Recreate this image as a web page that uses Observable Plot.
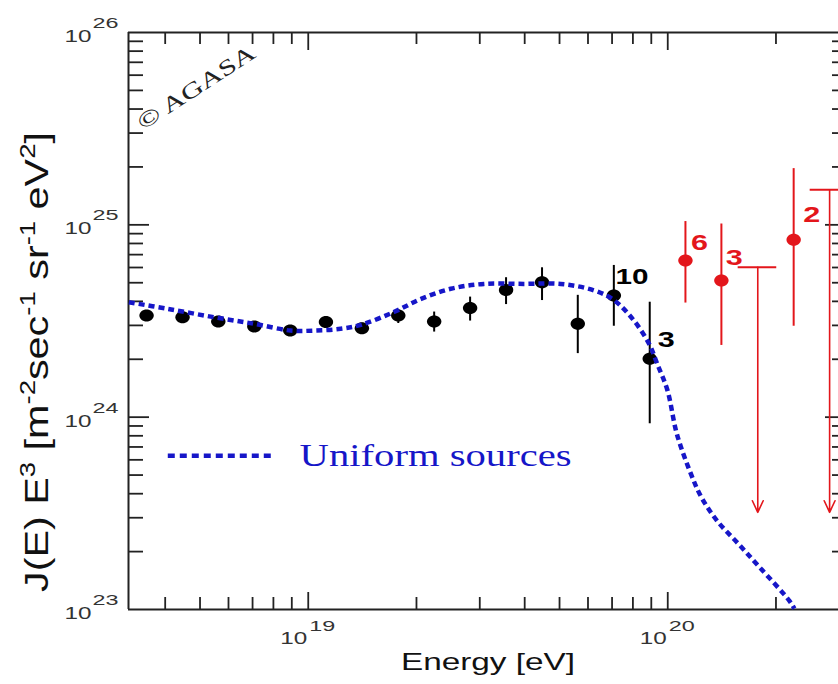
<!DOCTYPE html>
<html>
<head>
<meta charset="utf-8">
<script src="https://cdn.jsdelivr.net/npm/d3@7"></script>
<script src="https://cdn.jsdelivr.net/npm/@observablehq/plot@0.6"></script>
<style>
  html, body { margin: 0; padding: 0; background: #fff; }
  svg { display: block; }
</style>
</head>
<body>
<div id="chart"></div>
<script>
// ---- AGASA binned spectrum (black points) ----
const binEnergy = [3.55e18, 4.47e18, 5.62e18, 7.08e18, 8.91e18, 1.12e19, 1.41e19, 1.78e19, 2.24e19, 2.82e19, 3.55e19, 4.47e19, 5.62e19, 7.08e19, 8.91e19];
const binFlux   = [3.38e24, 3.31e24, 3.14e24, 2.96e24, 2.82e24, 3.12e24, 2.90e24, 3.38e24, 3.14e24, 3.70e24, 4.59e24, 5.03e24, 3.06e24, 4.29e24, 2.01e24];
const binLow    = [3.20e24, 3.15e24, 2.98e24, 2.82e24, 2.67e24, 2.95e24, 2.72e24, 3.07e24, 2.77e24, 3.16e24, 3.85e24, 4.04e24, 2.14e24, 2.97e24, 9.24e23];
const binHigh   = [3.55e24, 3.48e24, 3.30e24, 3.10e24, 2.97e24, 3.30e24, 3.08e24, 3.63e24, 3.52e24, 4.21e24, 5.31e24, 5.98e24, 4.30e24, 6.15e24, 3.96e24];

// ---- super-GZK events (red points) ----
const gzkEnergy = [1.12e20, 1.41e20, 2.24e20];
const gzkFlux   = [6.53e24, 5.14e24, 8.36e24];
const gzkLow    = [3.92e24, 2.36e24, 2.97e24];
const gzkHigh   = [1.04e25, 1.01e25, 1.96e25];

// ---- upper limits (red arrows) ----
const limitEnergy  = [1.78e20, 2.82e20];
const limitFlux    = [6.02e24, 1.52e25];
const limitCapLow  = [1.57e20, 2.49e20];
const limitCapHigh = [2.01e20, 3.19e20];
const limitArrowTo = [3.2e23, 3.2e23];

// ---- event-count annotations ----
const noteText   = ["10", "3", "6", "3", "2"];
const noteEnergy = [7.16e19, 9.38e19, 1.16e20, 1.45e20, 2.38e20];
const noteFlux   = [5.36e24, 2.52e24, 8.05e24, 6.73e24, 1.13e25];
const noteGroup  = ["agasa", "agasa", "gzk", "gzk", "gzk"];

// ---- uniform sources model curve ----
const curveEnergy = [3.17e18, 4.06e18, 5.46e18, 7.06e18, 8.93e18, 1.04e19, 1.23e19, 1.41e19, 1.73e19, 2.06e19, 2.49e19, 3.08e19, 3.98e19, 5.04e19, 6.24e19, 7.10e19, 8.05e19, 8.87e19, 9.35e19, 9.98e19, 1.06e20, 1.16e20, 1.24e20, 1.37e20, 1.57e20, 1.80e20, 2.18e20, 2.25e20];
const curveFlux   = [3.96e24, 3.66e24, 3.31e24, 3.06e24, 2.82e24, 2.82e24, 2.88e24, 3.03e24, 3.52e24, 4.12e24, 4.65e24, 4.93e24, 4.93e24, 4.93e24, 4.56e24, 4.05e24, 3.18e24, 2.41e24, 1.89e24, 1.38e24, 8.19e23, 5.07e23, 3.84e23, 2.90e23, 2.20e23, 1.66e23, 1.11e23, 1.01e23];

// ---- legend ----
const legendLabel = "Uniform sources";
const legendLineFrom = 4.08e18, legendLineTo = 8.11e18, legendFlux = 6.3e23, legendTextAt = 9.46e18;

// ---- axes ----
const xDomain = [3.1623e18, 3.1623e20];
const yDomain = [1e23, 1e26];
const xMajorTicks = [1e19, 1e20];
const xMinorTicks = [4e18, 5e18, 6e18, 7e18, 8e18, 9e18, 2e19, 3e19, 4e19, 5e19, 6e19, 7e19, 8e19, 9e19, 2e20, 3e20];
const yMajorTicks = [1e24, 1e25];
const yMinorTicks = [2e23, 3e23, 4e23, 5e23, 6e23, 7e23, 8e23, 9e23, 2e24, 3e24, 4e24, 5e24, 6e24, 7e24, 8e24, 9e24, 2e25, 3e25, 4e25, 5e25, 6e25, 7e25, 8e25, 9e25];
const xLabelValues = [1e19, 1e20];
const xLabelExp = ["19", "20"];
const yLabelValues = [1e23, 1e24, 1e25, 1e26];
const yLabelExp = ["23", "24", "25", "26"];
const xTitle = "Energy [eV]";
const yTitleParts = [["J(E) E", false], ["3", true], [" [m", false], ["-2", true], ["sec", false], ["-1", true], [" sr", false], ["-1", true], [" eV", false], ["2", true], ["]", false]];
const copyrightText = "\u00A9 AGASA";

const sans = "'Liberation Sans', Arial, Helvetica, sans-serif";
const serif = "'Liberation Serif', 'Times New Roman', serif";
const black = "#000";
const red = "#e3161b";
const blue = "#1616c8";
const axisColor = "#222";

const bins = binEnergy.map((e, i) => ({e, f: binFlux[i], lo: binLow[i], hi: binHigh[i]}));
const gzk = gzkEnergy.map((e, i) => ({e, f: gzkFlux[i], lo: gzkLow[i], hi: gzkHigh[i]}));
const limits = limitEnergy.map((e, i) => ({e, f: limitFlux[i], c1: limitCapLow[i], c2: limitCapHigh[i], to: limitArrowTo[i]}));
const notes = noteText.map((t, i) => ({t, e: noteEnergy[i], f: noteFlux[i], g: noteGroup[i]}));
const curve = curveEnergy.map((e, i) => ({e, f: curveFlux[i]}));

// slightly wide elliptical marker
const ellipse = {
  draw(ctx, size) {
    const r = Math.sqrt(size / Math.PI);
    const rx = r * 1.2, ry = r, k = 0.5523;
    ctx.moveTo(rx, 0);
    ctx.bezierCurveTo(rx, ry * k, rx * k, ry, 0, ry);
    ctx.bezierCurveTo(-rx * k, ry, -rx, ry * k, -rx, 0);
    ctx.bezierCurveTo(-rx, -ry * k, -rx * k, -ry, 0, -ry);
    ctx.bezierCurveTo(rx * k, -ry, rx, -ry * k, rx, 0);
    ctx.closePath();
  }
};

const tickStyle = {stroke: axisColor, strokeWidth: 1.8, fill: "none", label: null};

const svg = Plot.plot({
  width: 838,
  height: 684,
  marginLeft: 128,
  marginRight: 0,
  marginTop: 32,
  marginBottom: 75,
  style: {background: "white", overflow: "visible"},
  x: {type: "log", domain: xDomain, range: [128, 847]},
  y: {type: "log", domain: yDomain},
  marks: [
    // ticks (inward)
    Plot.axisX(xMinorTicks, {anchor: "bottom", tickSize: -12, ...tickStyle}),
    Plot.axisX(xMajorTicks, {anchor: "bottom", tickSize: -17, ...tickStyle}),
    Plot.axisX(xMinorTicks, {anchor: "top", tickSize: -11, ...tickStyle}),
    Plot.axisX(xMajorTicks, {anchor: "top", tickSize: -17, ...tickStyle}),
    Plot.axisY(yMinorTicks, {anchor: "left", tickSize: -15, ...tickStyle}),
    Plot.axisY(yMajorTicks, {anchor: "left", tickSize: -21, ...tickStyle}),
    Plot.axisY(yMinorTicks, {anchor: "right", tickSize: -7, ...tickStyle}),
    Plot.axisY(yMajorTicks, {anchor: "right", tickSize: -14, ...tickStyle}),
    // frame (left, bottom, top)
    Plot.ruleX([xDomain[0]], {stroke: axisColor, strokeWidth: 2}),
    Plot.ruleY([yDomain[0], yDomain[1]], {stroke: axisColor, strokeWidth: 2}),
    // tick labels
    Plot.text(yLabelValues, {y: d => d, frameAnchor: "left", text: () => "10", textAnchor: "end", dx: -37, dy: 4, fontSize: 17, fontFamily: sans, fill: "#333", className: "tick-base"}),
    Plot.text(yLabelValues, {y: d => d, frameAnchor: "left", text: (d, i) => yLabelExp[i], textAnchor: "start", dx: -36, dy: -9, fontSize: 14, fontFamily: sans, fill: "#333", className: "tick-exp"}),
    Plot.text(xLabelValues, {x: d => d, frameAnchor: "bottom", text: () => "10", textAnchor: "end", dx: -1, dy: 34, fontSize: 17, fontFamily: sans, fill: "#333", className: "tick-base"}),
    Plot.text(xLabelValues, {x: d => d, frameAnchor: "bottom", text: (d, i) => xLabelExp[i], textAnchor: "start", dx: 1, dy: 21, fontSize: 14, fontFamily: sans, fill: "#333", className: "tick-exp"}),
    // axis titles
    Plot.text([xTitle], {frameAnchor: "bottom", dx: 4.5, dy: 60, fontSize: 24, fontFamily: sans, fill: "#111", className: "xtitle"}),
    Plot.text(["J(E) E3 [m-2sec-1 sr-1 eV2]"], {frameAnchor: "left", rotate: -90, textAnchor: "start", dx: -91.5, dy: 271, fontSize: 33, fontFamily: sans, fill: "#111", className: "ytitle"}),
    // copyright
    Plot.text([copyrightText], {frameAnchor: "top-left", dx: 6, dy: 85, rotate: -33, textAnchor: "start", fontSize: 22, fontFamily: serif, fill: "#222", className: "copyright"}),
    // error bars
    Plot.ruleX(bins, {x: "e", y1: "lo", y2: "hi", stroke: black, strokeWidth: 2}),
    Plot.ruleX(gzk, {x: "e", y1: "lo", y2: "hi", stroke: red, strokeWidth: 2}),
    // upper limits
    Plot.ruleY(limits, {y: "f", x1: "c1", x2: "c2", stroke: red, strokeWidth: 2}),
    Plot.arrow(limits, {x1: "e", x2: "e", y1: "f", y2: "to", stroke: red, strokeWidth: 1.6, headLength: 12, headAngle: 50}),
    // points
    Plot.dot(bins, {x: "e", y: "f", r: 6, symbol: ellipse, fill: black, stroke: null}),
    Plot.dot(gzk, {x: "e", y: "f", r: 6, symbol: ellipse, fill: red, stroke: null}),
    // model curve
    Plot.line(curve, {x: "e", y: "f", stroke: blue, strokeWidth: 4.5, strokeDasharray: "6,4", strokeLinecap: "butt", curve: "catmull-rom"}),
    // annotations
    Plot.text(notes, {x: "e", y: "f", text: "t", textAnchor: "start", fontSize: 22, fontWeight: "bold", fontFamily: sans, fill: d => d.g === "gzk" ? red : black, className: "note"}),
    // legend
    Plot.ruleY([legendFlux], {x1: legendLineFrom, x2: legendLineTo, stroke: blue, strokeWidth: 4.5, strokeDasharray: "7,5", strokeLinecap: "butt"}),
    Plot.text([legendLabel], {x: legendTextAt, y: legendFlux, textAnchor: "start", fontSize: 32, fontFamily: serif, fill: blue, className: "legend"})
  ]
});

document.getElementById("chart").appendChild(svg);

// build superscripts of the y title
const yt = svg.querySelector("g.ytitle text");
if (yt) {
  yt.textContent = "";
  let raised = false;
  for (const [s, sup] of yTitleParts) {
    const ts = document.createElementNS("http://www.w3.org/2000/svg", "tspan");
    ts.textContent = s;
    if (sup !== raised) { ts.setAttribute("dy", sup ? "-13" : "13"); raised = sup; }
    if (sup) ts.setAttribute("font-size", "22");
    yt.appendChild(ts);
  }
  yt.setAttribute("textLength", 460);
  yt.setAttribute("lengthAdjust", "spacingAndGlyphs");
}

// horizontally widen texts to match the reference
function fit(cls, widthOf) {
  svg.querySelectorAll(`g.${cls} text`).forEach(t => {
    t.setAttribute("textLength", widthOf(t.textContent));
    t.setAttribute("lengthAdjust", "spacingAndGlyphs");
  });
}
fit("tick-base", () => 27);
fit("tick-exp", () => 26);
fit("xtitle", () => 174);
fit("legend", () => 272);
fit("copyright", () => 136);
fit("note", s => s.length === 2 ? 33 : 17);
</script>
</body>
</html>
